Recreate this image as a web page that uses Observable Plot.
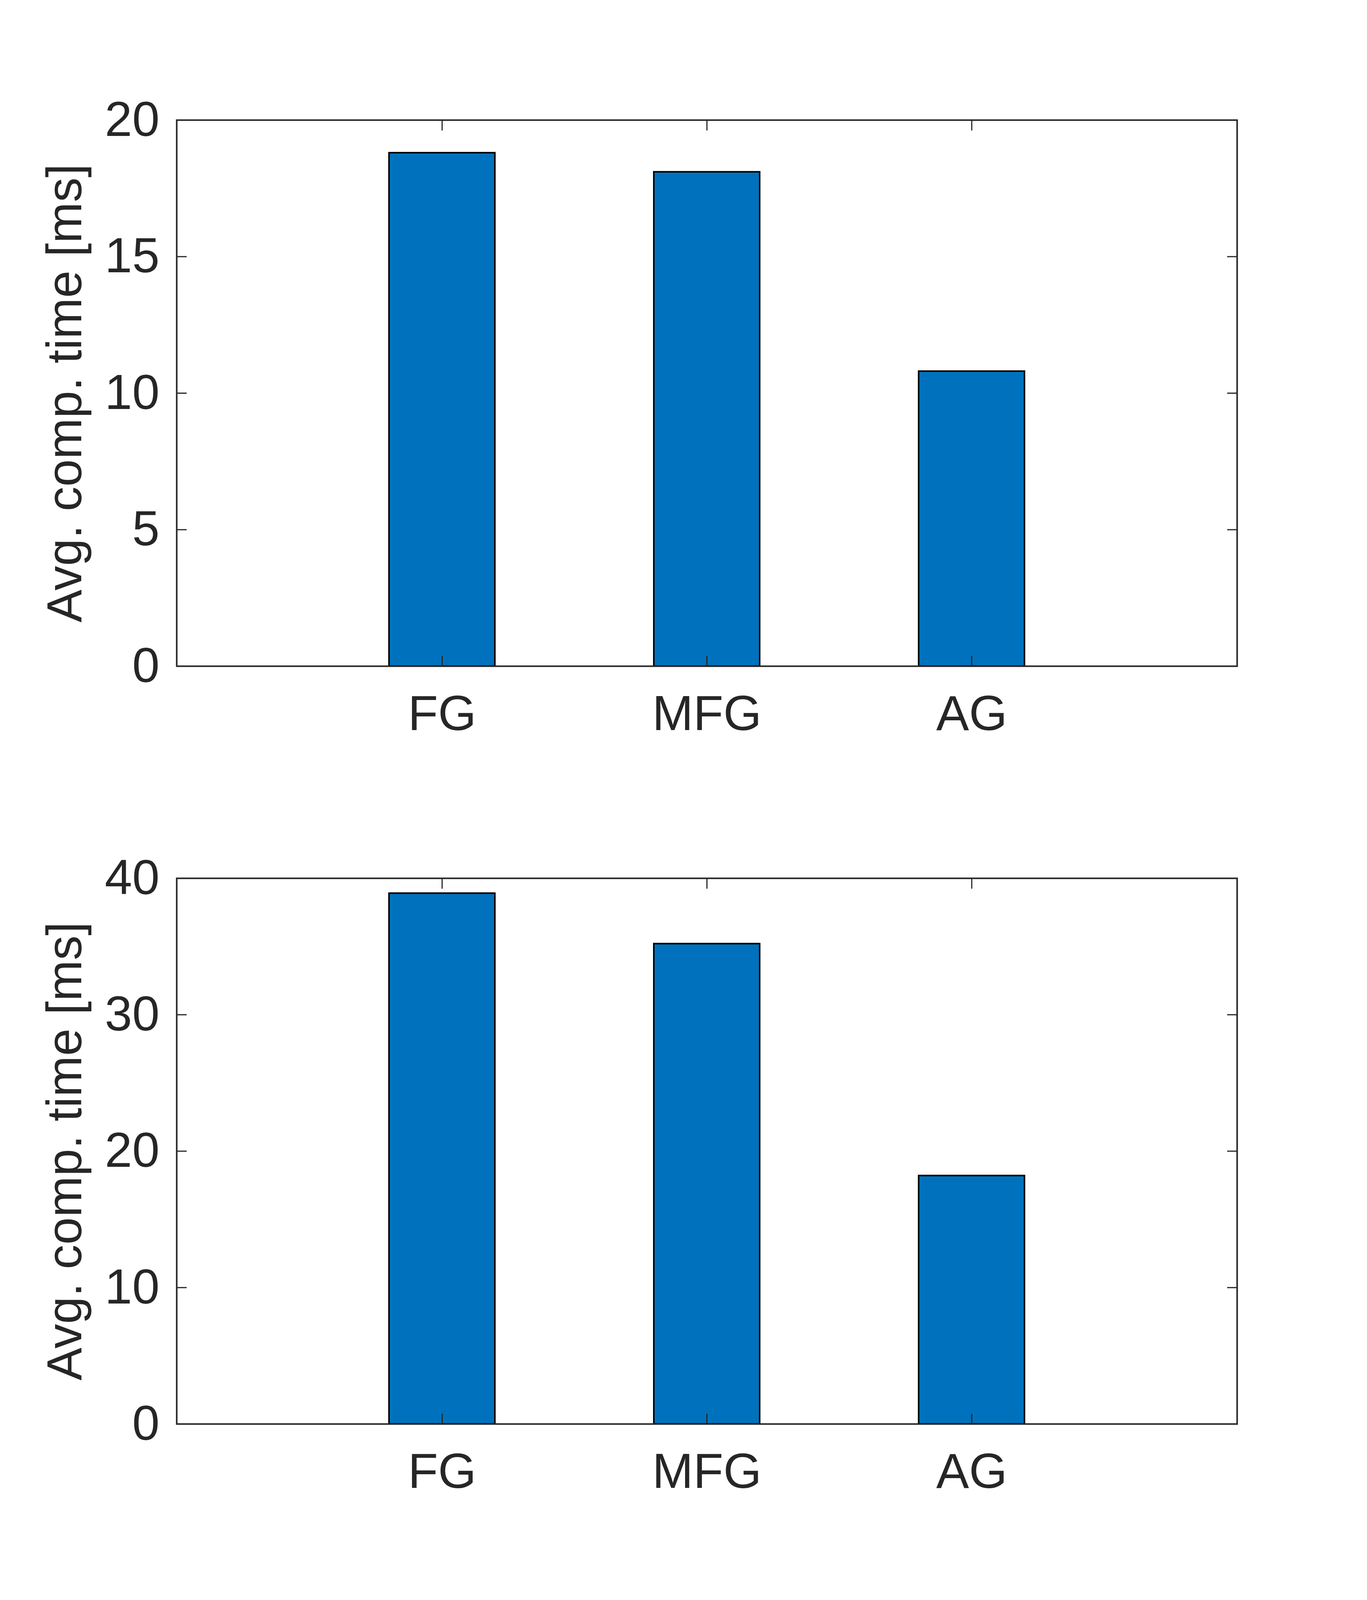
<!DOCTYPE html>
<html><head><meta charset="utf-8">
<script src="https://cdn.jsdelivr.net/npm/d3@7"></script>
<script src="https://cdn.jsdelivr.net/npm/@observablehq/plot@0.6"></script>
<style>html,body{margin:0;padding:0;background:#fff;overflow:hidden} #chart{width:3500px} #chart svg{display:block;max-width:none}</style>
</head><body><div id="chart"></div>
<script>
const categories = ["FG", "MFG", "AG"];
const timesTop = [18.8, 18.1, 10.8];
const timesBottom = [38.9, 35.2, 18.2];
const ticksTop = [0, 5, 10, 15, 20];
const ticksBottom = [0, 10, 20, 30, 40];
const yLabel = "Avg. comp. time [ms]";

// the visible viewport is 4096 px tall: fit both panels into it
function panel(values, ticks, yMax, height, mt, mb) {
  const data = categories.map((c, i) => ({category: c, value: values[i]}));
  return Plot.plot({
    width: 3500, height, marginLeft: 452, marginRight: 333, marginTop: mt, marginBottom: mb,
    style: {fontFamily: "'Liberation Sans', Arial, sans-serif", fontSize: "126px", color: "#262626", background: "#fff"},
    x: {type: "band", domain: categories, paddingInner: 0.6, paddingOuter: 0.8, align: 0.5},
    y: {domain: [0, yMax], ticks},
    marks: [
      Plot.barY(data, {x: "category", y: "value", fill: "#0072BD", stroke: "#000", strokeWidth: 4}),
      Plot.frame({stroke: "#262626", strokeWidth: 4}),
      Plot.axisX({anchor: "bottom", tickSize: 0, tickPadding: 74, label: null}),
      Plot.axisX({anchor: "bottom", tickSize: -26, fill: "none", label: null, strokeWidth: 3}),
      Plot.axisX({anchor: "top", tickSize: -26, fill: "none", label: null, strokeWidth: 3}),
      Plot.axisY({anchor: "left", ticks, tickSize: 0, tickPadding: 44, label: yLabel, labelAnchor: "center", labelOffset: 334, labelArrow: "none"}),
      Plot.axisY({anchor: "left", ticks, tickSize: -26, fill: "none", label: null, strokeWidth: 3}),
      Plot.axisY({anchor: "right", ticks, tickSize: -26, fill: "none", label: null, strokeWidth: 3})
    ]
  });
}

const root = document.getElementById("chart");
root.append(panel(timesTop, ticksTop, 20, 2048, 307, 343));
root.append(panel(timesBottom, ticksBottom, 40, 2048, 200, 451));
</script>
</body></html>
